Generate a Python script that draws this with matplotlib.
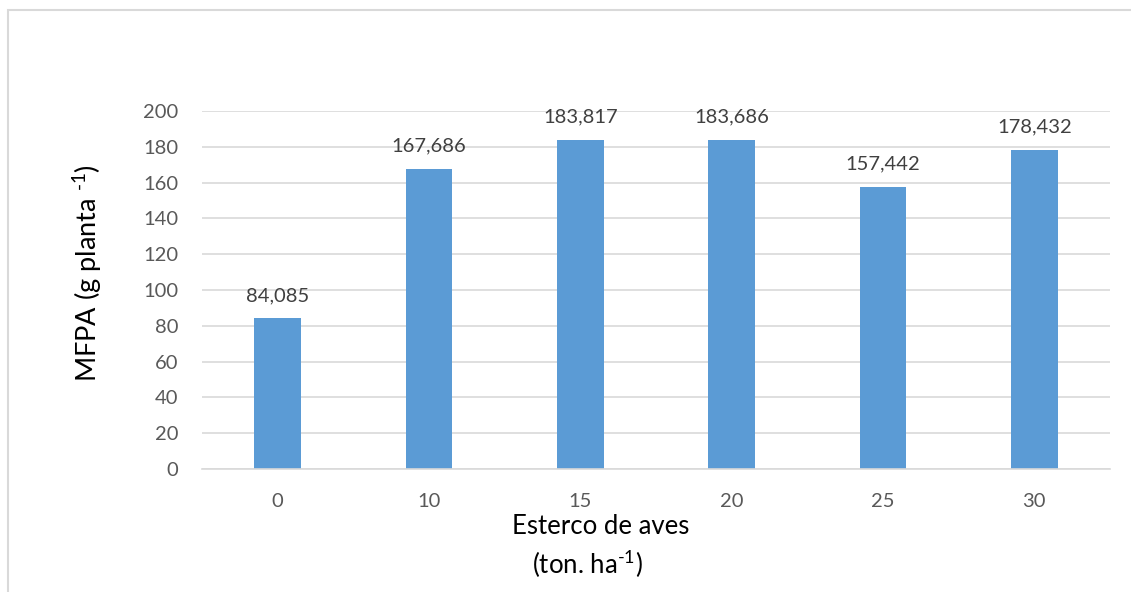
import matplotlib.pyplot as plt
from matplotlib.patches import Rectangle

plt.rcParams['font.family'] = ['Lato', 'DejaVu Sans']
plt.rcParams['mathtext.fontset'] = 'custom'
plt.rcParams['mathtext.rm'] = 'Lato'
plt.rcParams['mathtext.it'] = 'Lato'

# Dose of poultry manure and fresh mass of aerial part
doses = ['0', '10', '15', '20', '25', '30']
mfpa = [84.085, 167.686, 183.817, 183.686, 157.442, 178.432]
y_ticks = [0, 20, 40, 60, 80, 100, 120, 140, 160, 180, 200]

W, H = 1131, 592
fig = plt.figure(figsize=(W / 100, H / 100), dpi=100)

# light chart-area border (open at right and bottom)
fig.patches.append(Rectangle((8 / W, -0.1), 1.2, 1 - 10 / H + 0.1,
                             transform=fig.transFigure, fill=False,
                             edgecolor='#d9d9d9', linewidth=1.5))

ax = fig.add_axes([202 / W, (H - 469) / H, (1110 - 202) / W, (469 - 111) / H])

x = range(len(doses))
ax.bar(x, mfpa, width=0.31, color='#5b9bd5', zorder=2)

for xi, v in zip(x, mfpa):
    ax.annotate(f'{v:.3f}'.replace('.', ','), (xi, v), xytext=(0, 10.5),
                textcoords='offset points', ha='center', va='bottom',
                fontsize=14.5, color='#404040')

ax.set_xlim(-0.5, len(doses) - 0.5)
ax.set_ylim(0, 200)
ax.set_yticks(y_ticks)
ax.set_xticks(list(x))
ax.set_xticklabels(doses)
ax.tick_params(axis='both', length=0, labelsize=14.5, labelcolor='#595959')
ax.tick_params(axis='y', pad=17)
ax.tick_params(axis='x', pad=17)

ax.grid(axis='y', color='#d9d9d9', linewidth=1.2, zorder=0)
for s in ['top', 'right', 'left']:
    ax.spines[s].set_visible(False)
ax.spines['bottom'].set_color('#d9d9d9')
ax.spines['bottom'].set_linewidth(1.2)

fig.text(88 / W, 1 - 273 / H, r'MFPA (g planta $^{\text{-1}}$)', rotation=90,
         ha='center', va='center', fontsize=19.5, color='black')
fig.text(601 / W, 1 - 527 / H, 'Esterco de aves', ha='center', va='center',
         fontsize=18.5, color='black')
fig.text(587 / W, 1 - 564 / H, r'(ton. ha$^{\text{-1}}$)', ha='center', va='center',
         fontsize=18.5, color='black')

fig.savefig('out.png', dpi=100)
